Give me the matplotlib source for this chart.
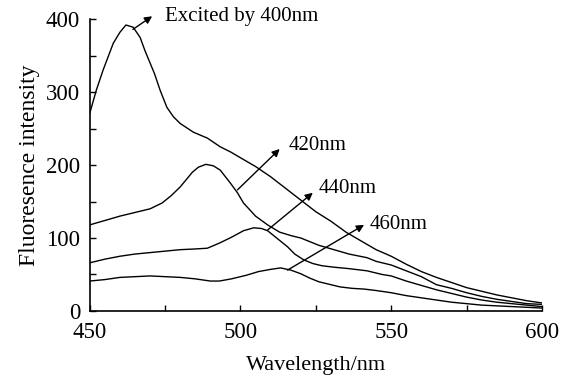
import matplotlib
matplotlib.use('Agg')
import matplotlib.pyplot as plt
from matplotlib.ticker import MultipleLocator

plt.rcParams['font.family'] = ['Liberation Serif', 'DejaVu Serif']

# excitation 400 nm
wl_400 = [450, 452.2, 454.4, 457.8, 460, 462, 464.4, 466.7, 468.3, 470, 471.5, 473.3,
          475.6, 477.8, 480, 484.4, 489, 493.3, 496.7, 500, 505, 510, 515, 520, 525,
          530, 535, 540, 545, 550, 555, 560, 565, 570, 575, 580, 585, 590, 595, 600]
int_400 = [271, 303, 330, 367, 382, 392, 389, 375, 357, 340, 325, 303,
           279, 266, 257, 245, 237, 225, 218, 210, 198, 184, 168, 152, 136,
           123, 108, 96, 84, 75, 64, 54, 46, 39, 32, 27, 22, 18, 14, 11]

# excitation 420 nm
wl_420 = [450, 455, 460, 465, 470, 474, 477, 480, 484, 486, 488.5, 491, 493.3, 496.7,
          499, 501, 505, 509, 513, 517, 520, 523, 526, 531, 536, 542, 545, 550,
          555, 560, 565, 570, 575, 580, 585, 590, 595, 600]
int_420 = [118, 124, 130, 135, 140, 148, 158, 170, 190, 197, 201, 199, 193, 175,
           162, 148, 130, 118, 108, 103, 100, 95, 90, 84, 78, 73, 68, 63,
           55, 47, 36, 31, 25, 20, 16, 13, 10, 9]

# excitation 440 nm
wl_440 = [450, 455, 460, 465, 470, 475, 480, 485, 489, 493, 497, 501, 504.4, 507,
          509, 512, 515.6, 518, 521, 524, 527, 531, 536, 542, 547, 550, 555, 560,
          565, 570, 575, 580, 585, 590, 595, 600]
int_440 = [66, 71, 75, 78, 80, 82, 84, 85, 86, 93, 101, 110, 114, 113,
           110, 100, 88, 78, 70, 65, 62, 60, 58, 55, 50, 48, 41, 35,
           29, 24, 19, 15, 12, 10, 8, 6]

# excitation 460 nm
wl_460 = [450, 455, 460, 465, 470, 475, 480, 485, 490, 493, 497, 502, 506, 510,
          513.3, 516.7, 520, 523, 526, 529, 533, 537, 541, 545, 550, 555, 560,
          565, 570, 575, 580, 590, 600]
int_460 = [41, 43, 46, 47, 48, 47, 46, 44, 41, 41, 44, 49, 54, 57,
           59, 56, 51, 45, 40, 37, 33, 31, 30, 28, 25, 21, 18,
           15, 12, 10, 8, 6, 4]

labels = ['Excited by 400nm', '420nm', '440nm', '460nm']
arrow_tails = [(464.3, 386), (499, 166), (509, 111), (515.6, 56)]
arrow_heads = [(470.7, 404), (513, 222), (524, 162), (541, 118)]
label_pos = [(475, 403), (516, 227), (526, 168), (543, 119)]

fig = plt.figure(figsize=(5.61, 3.76), dpi=100)
ax = fig.add_axes([0.160, 0.173, 0.806, 0.776])

for x, y in [(wl_400, int_400), (wl_420, int_420), (wl_440, int_440), (wl_460, int_460)]:
    ax.plot(x, y, color='black', lw=1.0)

for lab, tail, head, pos in zip(labels, arrow_tails, arrow_heads, label_pos):
    ax.annotate('', xy=head, xytext=tail, annotation_clip=False,
                arrowprops=dict(arrowstyle='-|>', color='black', lw=1.0,
                                mutation_scale=11, shrinkA=0, shrinkB=0))
    ax.text(pos[0], pos[1], lab, fontsize=15, va='center', ha='left')

ax.set_xlim(450, 600)
ax.set_ylim(0, 400)
ax.xaxis.set_major_locator(MultipleLocator(50))
ax.xaxis.set_minor_locator(MultipleLocator(25))
ax.yaxis.set_major_locator(MultipleLocator(100))
ax.yaxis.set_minor_locator(MultipleLocator(50))
ax.tick_params(which='both', direction='in', length=4, width=1, labelsize=16.5)
ax.tick_params(axis='x', pad=8)
ax.tick_params(axis='y', pad=7)
ax.spines['top'].set_visible(False)
ax.spines['right'].set_visible(False)
ax.spines['left'].set_linewidth(1.2)
ax.spines['bottom'].set_linewidth(1.2)

ax.set_xlabel('Wavelength/nm', fontsize=16, labelpad=9)
ax.set_ylabel('Fluoresence intensity', fontsize=17, labelpad=4)

fig.savefig('out.png', dpi=100)
